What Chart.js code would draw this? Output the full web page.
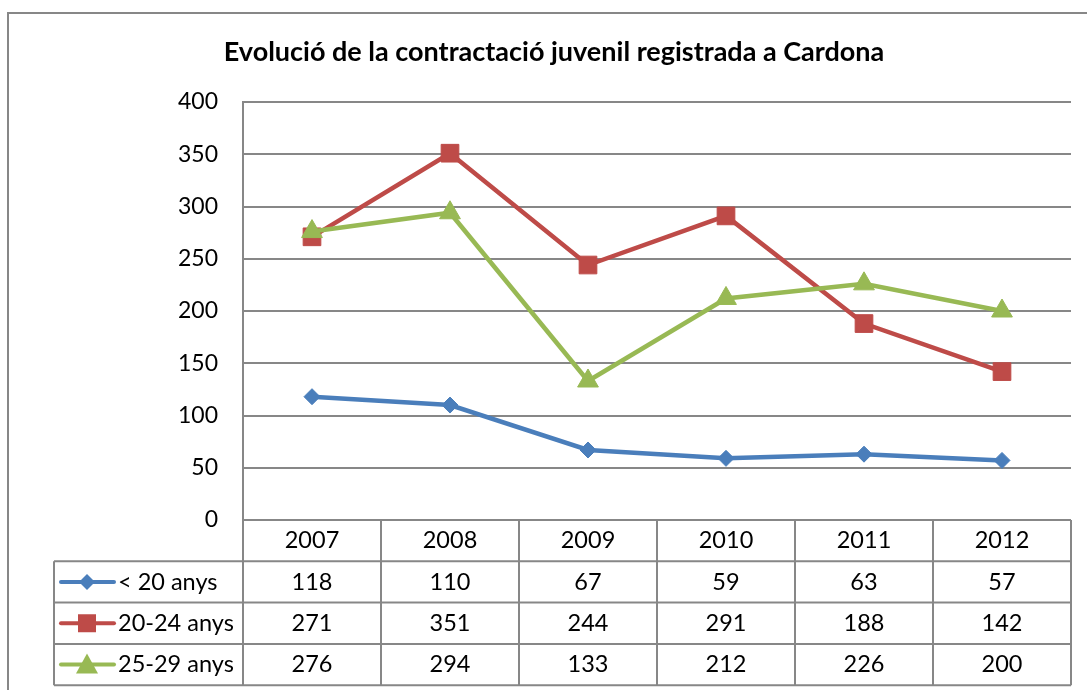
<!DOCTYPE html>
<html>
<head>
<meta charset="utf-8">
<script src="https://cdn.jsdelivr.net/npm/chart.js@4/dist/chart.umd.min.js"></script>
<style>
  html, body { margin: 0; padding: 0; background: #fff; }
  #wrap { width: 1087px; height: 690px; }
</style>
</head>
<body>
<div id="wrap"><canvas id="myChart" width="1087" height="690"></canvas></div>
<script>
var chartTitle = 'Evolució de la contractació juvenil registrada a Cardona';
var years = ['2007', '2008', '2009', '2010', '2011', '2012'];
var seriesNames = ['< 20 anys', '20-24 anys', '25-29 anys'];
var under20 = [118, 110, 67, 59, 63, 57];
var from20to24 = [271, 351, 244, 291, 188, 142];
var from25to29 = [276, 294, 133, 212, 226, 200];
var yTicks = [0, 50, 100, 150, 200, 250, 300, 350, 400];

var colors = ['#4A7EBB', '#BE4B48', '#98B954'];
var markers = ['rectRot', 'rect', 'triangle'];
var fontFamily = 'Lato, Carlito, Calibri, sans-serif';
var gridColor = '#878787';
var ctx = document.getElementById('myChart').getContext('2d');

// dibuja un marcador (rombo, cuadrado, triangulo)
function drawMarker(c, style, x, y, color) {
    c.save();
    c.fillStyle = color;
    c.beginPath();
    if (style == 'rectRot') {
        c.moveTo(x, y - 8); c.lineTo(x + 8, y); c.lineTo(x, y + 8); c.lineTo(x - 8, y);
    } else if (style == 'rect') {
        c.rect(x - 9, y - 9, 18, 18);
    } else {
        c.moveTo(x, y - 11); c.lineTo(x + 11, y + 9); c.lineTo(x - 11, y + 9);
    }
    c.closePath();
    c.fill();
    c.restore();
}

// marco, titulo y tabla de datos
var tablePlugin = {
    id: 'tablePlugin',
    beforeDraw: function(chart) {
        var c = chart.ctx;
        c.save();
        c.fillStyle = '#fff';
        c.fillRect(0, 0, chart.width, chart.height);
        c.strokeStyle = gridColor;
        c.lineWidth = 2;
        c.strokeRect(8, 13, chart.width + 20, chart.height + 20);
        c.restore();
    },
    afterDraw: function(chart) {
        var c = chart.ctx;
        var xs = chart.scales.x;
        var area = chart.chartArea;
        var rowH = 41.3;
        var colW = (area.right - area.left) / years.length;
        var legLeft = 54;
        var top = area.bottom;
        var rows = [under20, from20to24, from25to29];

        c.save();
        // titulo
        c.fillStyle = '#000';
        c.font = 'bold 27px ' + fontFamily;
        c.textAlign = 'center';
        c.textBaseline = 'middle';
        c.fillText(chartTitle, 554, 52);

        // lineas de la tabla
        c.strokeStyle = gridColor;
        c.lineWidth = 2;
        c.beginPath();
        c.moveTo(area.left, top); c.lineTo(area.right, top);
        for (var r = 1; r <= 4; r++) {
            c.moveTo(legLeft, top + r * rowH); c.lineTo(area.right, top + r * rowH);
        }
        for (var i = 0; i <= years.length; i++) {
            var bx = area.left + i * colW;
            c.moveTo(bx, top); c.lineTo(bx, top + 4 * rowH);
        }
        c.moveTo(legLeft, top + rowH); c.lineTo(legLeft, top + 4 * rowH);
        c.stroke();

        // textos
        c.font = '23.5px ' + fontFamily;
        c.fillStyle = '#000';
        c.textAlign = 'center';
        for (var j = 0; j < years.length; j++) {
            var cx = xs.getPixelForValue(j);
            c.fillText(years[j], cx, top + rowH / 2);
            for (var k = 0; k < rows.length; k++) {
                c.fillText(String(rows[k][j]), cx, top + (k + 1.5) * rowH);
            }
        }
        // leyenda
        for (var s = 0; s < seriesNames.length; s++) {
            var ly = top + (s + 1.5) * rowH;
            c.strokeStyle = colors[s];
            c.lineWidth = 4;
            c.lineCap = 'round';
            c.beginPath();
            c.moveTo(61, ly); c.lineTo(114, ly);
            c.stroke();
            drawMarker(c, markers[s], 87, ly, colors[s]);
            c.fillStyle = '#000';
            c.textAlign = 'left';
            c.fillText(seriesNames[s], 118, ly);
        }
        c.restore();
    }
};

function makeSet(i, values, radius, order) {
    return {
        label: seriesNames[i],
        data: values,
        borderColor: colors[i],
        backgroundColor: colors[i],
        borderWidth: 4.5,
        pointStyle: markers[i],
        pointRadius: radius,
        pointBackgroundColor: colors[i],
        pointBorderColor: colors[i],
        pointBorderWidth: 1,
        tension: 0,
        order: order
    };
}

var myChart = new Chart(ctx, {
    type: 'line',
    data: {
        labels: years,
        datasets: [
            makeSet(0, under20, 8, 3),
            makeSet(1, from20to24, 12.5, 2),
            makeSet(2, from25to29, 12, 1)
        ]
    },
    plugins: [tablePlugin],
    options: {
        responsive: false,
        animation: false,
        layout: { padding: { left: 0, right: 16, top: 102, bottom: 170 } },
        scales: {
            x: {
                display: false,
                offset: true
            },
            y: {
                min: 0,
                max: 400,
                afterFit: function(scale) { scale.width = 243; },
                afterBuildTicks: function(scale) {
                    scale.ticks = yTicks.map(function(v) { return { value: v }; });
                },
                ticks: {
                    padding: 25,
                    color: '#000',
                    font: { family: fontFamily, size: 23 }
                },
                grid: { color: gridColor, lineWidth: 2, drawTicks: false },
                border: { color: gridColor, width: 2 }
            }
        },
        plugins: {
            legend: { display: false },
            title: { display: false },
            tooltip: { enabled: false }
        }
    }
});
</script>
</body>
</html>
